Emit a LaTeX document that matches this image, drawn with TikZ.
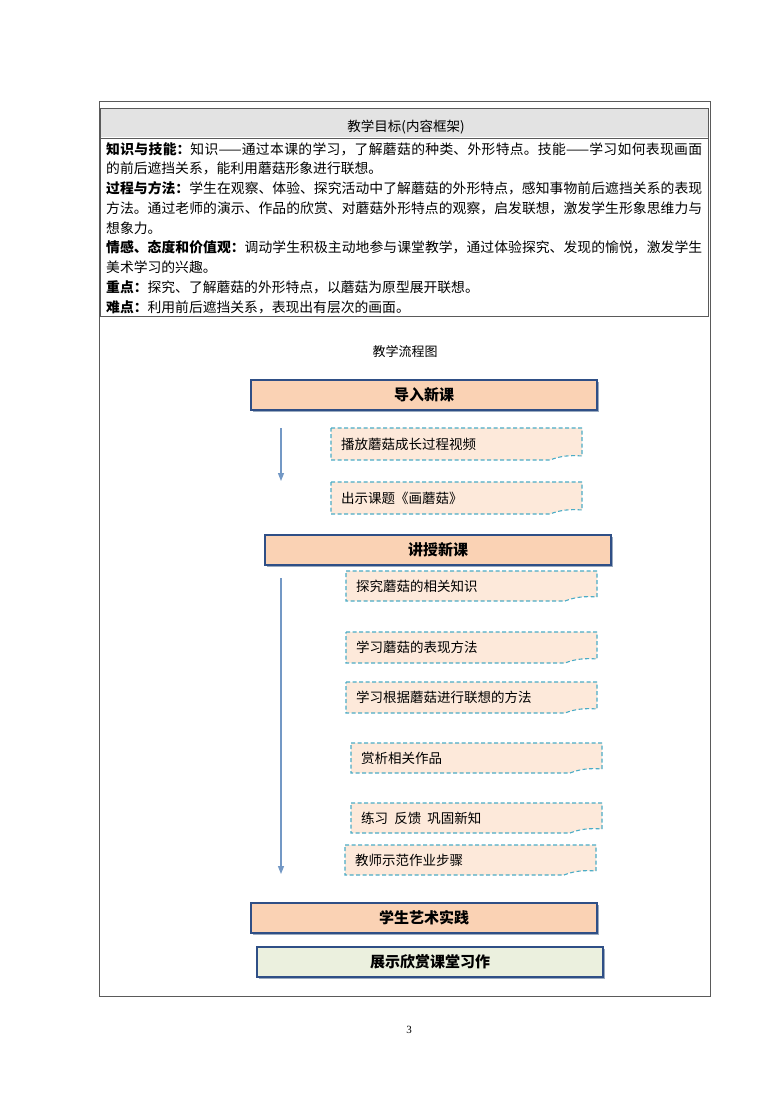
\documentclass[tikz,border=0pt]{standalone}
\usepackage{fontspec}
\setmainfont{Noto Sans CJK SC}
\newfontfamily\numfont{Liberation Serif}
\usetikzlibrary{arrows.meta,shadows}
\XeTeXlinebreaklocale "zh"
\XeTeXlinebreakskip=0pt plus 1pt

\definecolor{headgray}{HTML}{E3E3E3}
\definecolor{framegray}{HTML}{5A5A5A}
\definecolor{peach}{HTML}{FAD2B4}
\definecolor{lightpeach}{HTML}{FDE9DA}
\definecolor{boxblue}{HTML}{2F4F86}
\definecolor{shadowblue}{HTML}{9AAABF}
\definecolor{dashcyan}{HTML}{4BACC6}
\definecolor{arrowblue}{HTML}{7398C5}
\definecolor{palegreen}{HTML}{EBF0DE}

\tikzset{
  stagebox/.style={draw=boxblue, line width=1.2pt, fill=peach,
    minimum width=346pt, minimum height=30pt, inner sep=0pt,
    font=\fontsize{15}{18}\selectfont\bfseries,
    drop shadow={shadow xshift=2pt, shadow yshift=-2pt, fill=shadowblue, opacity=1}},
  notebox/.style={draw=dashcyan, line width=1.1pt, dash pattern=on 4pt off 2.5pt, fill=lightpeach},
  notetext/.style={anchor=west, inner sep=0pt, font=\fontsize{13.5}{16}\selectfont},
  flowarrow/.style={draw=arrowblue, line width=1.2pt, -{Triangle[width=6pt,length=8pt]}}
}

% name, left, top, right, bottom, text
\newcommand\notecard[6]{%
  \draw[notebox] (#2,#3) -- (#4,#3) -- (#4,#5-4)
    .. controls (#4-12,#5-5) and (#4-22,#5-4) .. (#4-32,#5) -- (#2,#5) -- cycle;
  \node[notetext] (#1) at (#2+10,{(#3+#5)/2}) {#6};}

\begin{document}
\begin{tikzpicture}[x=1pt,y=-1pt]
\useasboundingbox (0,0) rectangle (780,1103);
\fill[white] (0,0) rectangle (780,1103);

% page frame and goals table
\draw[framegray, line width=0.8pt] (99,101) rectangle (710,996);
\fill[headgray] (100,109) rectangle (708,137);
\draw[framegray, line width=0.6pt] (100,108) rectangle (708,316);
\draw[framegray, line width=0.6pt] (100,138) -- (708,138);
\node[font=\fontsize{13.5}{16}\selectfont] (goalhead) at (406,127) {教学目标(内容框架)};
\node[anchor=north west, inner sep=0pt, text width=596pt, align=justify,
  font=\fontsize{13.8}{19.75}\selectfont] (goals) at (106,142) {%
  \textbf{知识与技能：}知识——通过本课的学习，了解蘑菇的种类、外形特点。技能——学习如何表现画面的前后遮挡关系，能利用蘑菇形象进行联想。\par
  \textbf{过程与方法：}学生在观察、体验、探究活动中了解蘑菇的外形特点，感知事物前后遮挡关系的表现方法。通过老师的演示、作品的欣赏、对蘑菇外形特点的观察，启发联想，激发学生形象思维力与想象力。\par
  \textbf{情感、态度和价值观：}调动学生积极主动地参与课堂教学，通过体验探究、发现的愉悦，激发学生美术学习的兴趣。\par
  \textbf{重点：}探究、了解蘑菇的外形特点，以蘑菇为原型展开联想。\par
  \textbf{难点：}利用前后遮挡关系，表现出有层次的画面。};

% flow chart
\node[font=\fontsize{13}{16}\selectfont] (flowtitle) at (405,352) {教学流程图};

\node[stagebox] (intro) at (424,395) {导入新课};
\coordinate (a1s) at (281,428);
\coordinate (a1e) at (281,481);
\draw[flowarrow] (a1s) -- (a1e);
\notecard{video}{331}{428}{582}{460}{播放蘑菇成长过程视频}
\notecard{topic}{331}{482}{582}{514}{出示课题《画蘑菇》}

\node[stagebox] (teach) at (438,550) {讲授新课};
\coordinate (a2s) at (281,578);
\coordinate (a2e) at (281,874);
\draw[flowarrow] (a2s) -- (a2e);
\notecard{explore}{346}{571}{597}{601}{探究蘑菇的相关知识}
\notecard{method}{346}{632}{597}{663}{学习蘑菇的表现方法}
\notecard{associate}{346}{682}{597}{713}{学习根据蘑菇进行联想的方法}
\notecard{appreciate}{351}{743}{602}{773}{赏析相关作品}
\notecard{practice}{351}{803}{602}{833}{练习\ \ 反馈\ \ 巩固新知}
\notecard{demo}{345}{845}{596}{875}{教师示范作业步骤}

\node[stagebox] (art) at (424,918) {学生艺术实践};
\node[stagebox, fill=palegreen] (show) at (430,962) {展示欣赏课堂习作};

\node[font=\numfont\fontsize{11}{13}\selectfont] (pagenum) at (409,1030) {3};
\end{tikzpicture}
\end{document}
